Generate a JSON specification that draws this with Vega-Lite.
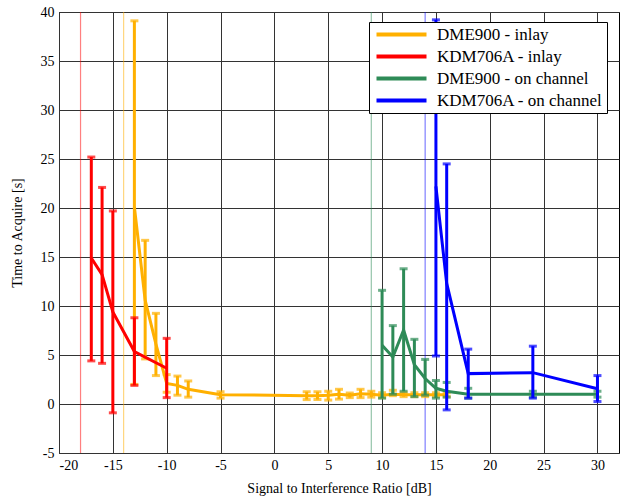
{
  "$schema": "https://vega.github.io/schema/vega-lite/v6.json",
  "width": 560,
  "height": 441,
  "autosize": {"type": "none"},
  "padding": {"left": 59, "top": 12, "right": 2, "bottom": 46},
  "background": "white",
  "config": {
    "font": "Liberation Serif, Times New Roman, DejaVu Serif, serif",
    "view": {"stroke": "#000", "strokeWidth": 1},
    "axis": {
      "labelFont": "Liberation Serif, Times New Roman, DejaVu Serif, serif", "titleFont": "Liberation Serif, Times New Roman, DejaVu Serif, serif",
      "labelFontSize": 14, "titleFontSize": 14, "titleFontWeight": "normal",
      "labelColor": "#000", "titleColor": "#000",
      "gridColor": "#333", "gridWidth": 1, "gridOpacity": 1,
      "domain": false, "ticks": false
    },
    "legend": {"strokeWidth": 1}
  },
  "datasets": {
    "refl": [
      {"s": "KDM706A - inlay", "x": -18},
      {"s": "DME900 - inlay", "x": -14},
      {"s": "DME900 - on channel", "x": 9},
      {"s": "KDM706A - on channel", "x": 14}
    ],
    "pts": [
      {"s": "DME900 - inlay", "x": -13, "m": 20.1, "lo": 2.0, "hi": 39.1},
      {"s": "DME900 - inlay", "x": -12, "m": 10.6, "lo": 4.6, "hi": 16.7},
      {"s": "DME900 - inlay", "x": -11, "m": 6.1, "lo": 2.9, "hi": 9.25},
      {"s": "DME900 - inlay", "x": -10, "m": 2.1, "lo": 1.2, "hi": 3.0},
      {"s": "DME900 - inlay", "x": -9, "m": 1.9, "lo": 0.9, "hi": 2.85},
      {"s": "DME900 - inlay", "x": -8, "m": 1.5, "lo": 0.7, "hi": 2.35},
      {"s": "DME900 - inlay", "x": -5, "m": 0.95, "lo": 0.6, "hi": 1.25},
      {"s": "DME900 - inlay", "x": 3, "m": 0.85, "lo": 0.45, "hi": 1.25},
      {"s": "DME900 - inlay", "x": 4, "m": 0.85, "lo": 0.45, "hi": 1.25},
      {"s": "DME900 - inlay", "x": 5, "m": 0.9, "lo": 0.4, "hi": 1.3},
      {"s": "DME900 - inlay", "x": 6, "m": 1.0, "lo": 0.5, "hi": 1.5},
      {"s": "DME900 - inlay", "x": 7, "m": 0.9, "lo": 0.65, "hi": 1.12},
      {"s": "DME900 - inlay", "x": 8, "m": 1.05, "lo": 0.65, "hi": 1.5},
      {"s": "DME900 - inlay", "x": 9, "m": 1.0, "lo": 0.7, "hi": 1.3},
      {"s": "DME900 - inlay", "x": 10, "m": 0.9, "lo": 0.65, "hi": 1.15},
      {"s": "DME900 - inlay", "x": 11, "m": 1.0, "lo": 0.85, "hi": 1.4},
      {"s": "DME900 - inlay", "x": 12, "m": 0.95, "lo": 0.75, "hi": 1.15},
      {"s": "DME900 - inlay", "x": 13, "m": 0.95, "lo": 0.75, "hi": 1.15},
      {"s": "DME900 - inlay", "x": 14, "m": 0.95, "lo": 0.75, "hi": 1.15},
      {"s": "DME900 - inlay", "x": 15, "m": 0.95, "lo": 0.75, "hi": 1.15},
      {"s": "DME900 - inlay", "x": 16, "m": 0.95, "lo": 0.75, "hi": 1.15},
      {"s": "KDM706A - inlay", "x": -17, "m": 14.9, "lo": 4.4, "hi": 25.2},
      {"s": "KDM706A - inlay", "x": -16, "m": 13.2, "lo": 4.15, "hi": 22.1},
      {"s": "KDM706A - inlay", "x": -15, "m": 9.4, "lo": -0.9, "hi": 19.7},
      {"s": "KDM706A - inlay", "x": -13, "m": 5.35, "lo": 1.9, "hi": 8.8},
      {"s": "KDM706A - inlay", "x": -10, "m": 3.65, "lo": 0.65, "hi": 6.7},
      {"s": "DME900 - on channel", "x": 10, "m": 6.0, "lo": 0.6, "hi": 11.6},
      {"s": "DME900 - on channel", "x": 11, "m": 4.8, "lo": 1.0, "hi": 8.0},
      {"s": "DME900 - on channel", "x": 12, "m": 7.55, "lo": 1.3, "hi": 13.8},
      {"s": "DME900 - on channel", "x": 13, "m": 4.0, "lo": 0.75, "hi": 6.6},
      {"s": "DME900 - on channel", "x": 14, "m": 2.6, "lo": 0.9, "hi": 4.55},
      {"s": "DME900 - on channel", "x": 15, "m": 1.6, "lo": 0.6, "hi": 2.4},
      {"s": "DME900 - on channel", "x": 16, "m": 1.3, "lo": 0.7, "hi": 2.2},
      {"s": "DME900 - on channel", "x": 18, "m": 1.0, "lo": 0.6, "hi": 1.6},
      {"s": "DME900 - on channel", "x": 24, "m": 1.0, "lo": 0.7, "hi": 1.3},
      {"s": "DME900 - on channel", "x": 30, "m": 1.0, "lo": 0.7, "hi": 1.3},
      {"s": "KDM706A - on channel", "x": 15, "m": 22.2, "lo": 4.9, "hi": 39.2},
      {"s": "KDM706A - on channel", "x": 16, "m": 12.3, "lo": -0.6, "hi": 24.5},
      {"s": "KDM706A - on channel", "x": 18, "m": 3.1, "lo": 0.6, "hi": 5.6},
      {"s": "KDM706A - on channel", "x": 24, "m": 3.2, "lo": 0.6, "hi": 5.9},
      {"s": "KDM706A - on channel", "x": 30, "m": 1.55, "lo": 0.25, "hi": 2.9}
    ]
  },
  "encoding": {
    "x": {
      "field": "x", "type": "quantitative",
      "scale": {"domain": [-20, 32], "nice": false, "zero": false},
      "axis": {"title": "Signal to Interference Ratio [dB]", "values": [-20, -15, -10, -5, 0, 5, 10, 15, 20, 25, 30], "labelExpr": "'' + datum.value", "labelPadding": 5, "titlePadding": 9, "grid": true}
    },
    "color": {
      "field": "s", "type": "nominal",
      "scale": {"domain": ["DME900 - inlay", "KDM706A - inlay", "DME900 - on channel", "KDM706A - on channel"], "range": ["#FFB000", "#FF0000", "#2E8B57", "#0000FF"]},
      "legend": {
        "title": null, "orient": "none", "legendX": 310, "legendY": 10,
        "symbolType": "M-5,0H5", "symbolSize": 100, "symbolStrokeWidth": 4, "symbolOpacity": 1,
        "symbolOffset": 20, "labelOffset": 27, "labelLimit": 400,
        "labelFont": "Liberation Serif, Times New Roman, DejaVu Serif, serif", "labelFontSize": 17, "labelColor": "#000",
        "rowPadding": 4, "padding": 4,
        "fillColor": "white", "strokeColor": "#000"
      }
    }
  },
  "layer": [
    {
      "data": {"name": "refl"},
      "mark": {"type": "rule", "strokeWidth": 1.2, "opacity": 0.5},
      "encoding": {}
    },
    {
      "data": {"name": "pts"},
      "transform": [{"filter": "datum.s == 'DME900 - inlay'"}],
      "layer": [
        {"mark": {"type": "rule", "strokeWidth": 3}, "encoding": {"y": {"field": "lo", "type": "quantitative", "scale": {"domain": [-5, 40], "nice": false, "zero": false}, "axis": {"title": "Time to Acquire [s]", "values": [-5, 0, 5, 10, 15, 20, 25, 30, 35, 40], "labelExpr": "'' + datum.value", "labelPadding": 5, "titlePadding": 16, "grid": true}}, "y2": {"field": "hi"}}},
        {"mark": {"type": "tick", "orient": "horizontal", "size": 8, "thickness": 3}, "encoding": {"y": {"field": "lo", "type": "quantitative"}}},
        {"mark": {"type": "tick", "orient": "horizontal", "size": 8, "thickness": 3}, "encoding": {"y": {"field": "hi", "type": "quantitative"}}},
        {"mark": {"type": "line", "strokeWidth": 3}, "encoding": {"y": {"field": "m", "type": "quantitative"}}}
      ]
    },
    {
      "data": {"name": "pts"},
      "transform": [{"filter": "datum.s == 'KDM706A - inlay'"}],
      "layer": [
        {"mark": {"type": "rule", "strokeWidth": 3}, "encoding": {"y": {"field": "lo", "type": "quantitative"}, "y2": {"field": "hi"}}},
        {"mark": {"type": "tick", "orient": "horizontal", "size": 8, "thickness": 3}, "encoding": {"y": {"field": "lo", "type": "quantitative"}}},
        {"mark": {"type": "tick", "orient": "horizontal", "size": 8, "thickness": 3}, "encoding": {"y": {"field": "hi", "type": "quantitative"}}},
        {"mark": {"type": "line", "strokeWidth": 3}, "encoding": {"y": {"field": "m", "type": "quantitative"}}}
      ]
    },
    {
      "data": {"name": "pts"},
      "transform": [{"filter": "datum.s == 'DME900 - on channel'"}],
      "layer": [
        {"mark": {"type": "rule", "strokeWidth": 3}, "encoding": {"y": {"field": "lo", "type": "quantitative"}, "y2": {"field": "hi"}}},
        {"mark": {"type": "tick", "orient": "horizontal", "size": 8, "thickness": 3}, "encoding": {"y": {"field": "lo", "type": "quantitative"}}},
        {"mark": {"type": "tick", "orient": "horizontal", "size": 8, "thickness": 3}, "encoding": {"y": {"field": "hi", "type": "quantitative"}}},
        {"mark": {"type": "line", "strokeWidth": 3}, "encoding": {"y": {"field": "m", "type": "quantitative"}}}
      ]
    },
    {
      "data": {"name": "pts"},
      "transform": [{"filter": "datum.s == 'KDM706A - on channel'"}],
      "layer": [
        {"mark": {"type": "rule", "strokeWidth": 3}, "encoding": {"y": {"field": "lo", "type": "quantitative"}, "y2": {"field": "hi"}}},
        {"mark": {"type": "tick", "orient": "horizontal", "size": 8, "thickness": 3}, "encoding": {"y": {"field": "lo", "type": "quantitative"}}},
        {"mark": {"type": "tick", "orient": "horizontal", "size": 8, "thickness": 3}, "encoding": {"y": {"field": "hi", "type": "quantitative"}}},
        {"mark": {"type": "line", "strokeWidth": 3}, "encoding": {"y": {"field": "m", "type": "quantitative"}}}
      ]
    }
  ]
}
